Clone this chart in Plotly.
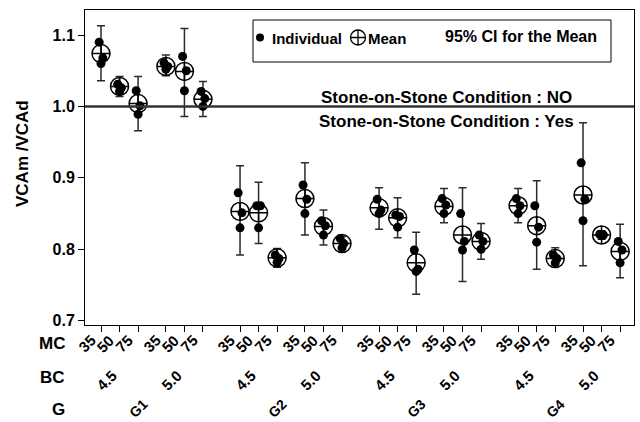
import plotly.graph_objects as go

# Factor levels (G > BC > MC nesting)
groups = ["G1", "G2", "G3", "G4"]
bc_levels = ["4.5", "5.0"]
mc_levels = ["35", "50", "75"]

# Individual observations per cell, ordered G, BC, MC
individual = [
    [1.090, 1.068, 1.060], [1.031, 1.026, 1.021], [1.022, 1.001, 0.989],
    [1.061, 1.056, 1.052], [1.070, 1.050, 1.022], [1.021, 1.011, 1.000],
    [0.879, 0.851, 0.830], [0.861, 0.861, 0.830], [0.792, 0.787, 0.782],
    [0.890, 0.870, 0.850], [0.840, 0.833, 0.820], [0.815, 0.808, 0.802],
    [0.870, 0.855, 0.850], [0.848, 0.846, 0.831], [0.799, 0.772, 0.769],
    [0.871, 0.862, 0.850], [0.850, 0.811, 0.799], [0.820, 0.811, 0.800],
    [0.871, 0.861, 0.850], [0.861, 0.831, 0.810], [0.792, 0.787, 0.781],
    [0.921, 0.870, 0.840], [0.821, 0.820, 0.819], [0.811, 0.799, 0.781],
]

# Cell means and 95% confidence limits
means = [1.074, 1.028, 1.004, 1.056, 1.049, 1.010,
         0.853, 0.851, 0.788, 0.871, 0.832, 0.808,
         0.858, 0.844, 0.781, 0.860, 0.820, 0.811,
         0.861, 0.833, 0.787, 0.876, 0.820, 0.797]
ci_low = [1.036, 1.014, 0.966, 1.043, 0.986, 0.986,
          0.792, 0.808, 0.775, 0.820, 0.806, 0.800,
          0.828, 0.816, 0.737, 0.837, 0.755, 0.786,
          0.837, 0.772, 0.778, 0.777, 0.814, 0.760]
ci_high = [1.113, 1.042, 1.042, 1.072, 1.109, 1.035,
           0.917, 0.894, 0.801, 0.921, 0.855, 0.818,
           0.886, 0.872, 0.824, 0.885, 0.886, 0.836,
           0.885, 0.896, 0.802, 0.977, 0.826, 0.835]

y_ticks = [0.7, 0.8, 0.9, 1.0, 1.1]
y_tick_text = ["0.7", "0.8", "0.9", "1.0", "1.1"]
reference_value = 1.0

FONT = "Liberation Sans, Arial, Helvetica, sans-serif"
W, H = 640, 422
ML, MR, MT, MB = 85, 6, 10, 97
PW, PH = W - ML - MR, H - MT - MB


def fx(px):
    return (px - ML) / PW


def fy(py):
    return 1 - (py - MT) / PH


def bold(size):
    return dict(family=FONT, size=size, color="black", weight="bold")


# x positions: unit step within MC, wider gaps between BC and G blocks
positions, labels = [], []
for g in range(len(groups)):
    for b in range(len(bc_levels)):
        for m in range(len(mc_levels)):
            positions.append(g * 7.5 + b * 3.5 + m)
            labels.append(mc_levels[m])

jitter = [-0.1, 0.1, 0.0]
dot_x, dot_y = [], []
for i, vals in enumerate(individual):
    for k, v in enumerate(vals):
        dot_x.append(positions[i] + jitter[k % 3])
        dot_y.append(v)

fig = go.Figure()

# Means with 95% CI bars
fig.add_trace(go.Scatter(
    x=positions, y=means, mode="markers",
    marker=dict(symbol="circle-cross-open", size=18, color="black",
                line=dict(width=1.5, color="black")),
    error_y=dict(type="data", symmetric=False,
                 array=[h - m for h, m in zip(ci_high, means)],
                 arrayminus=[m - l for m, l in zip(means, ci_low)],
                 color="#2b2b2b", thickness=1.5, width=4),
    hoverinfo="skip",
))

# Individual values
fig.add_trace(go.Scatter(
    x=dot_x, y=dot_y, mode="markers",
    marker=dict(symbol="circle", size=9, color="black"),
    hoverinfo="skip",
))

# Legend glyphs on a pixel-space overlay
fig.add_trace(go.Scatter(
    x=[260], y=[37.5], xaxis="x2", yaxis="y2", mode="markers",
    marker=dict(symbol="circle", size=8, color="black"), hoverinfo="skip"))
fig.add_trace(go.Scatter(
    x=[358], y=[37.5], xaxis="x2", yaxis="y2", mode="markers",
    marker=dict(symbol="circle-cross-open", size=15, color="black",
                line=dict(width=1.3, color="black")), hoverinfo="skip"))

shapes = [
    dict(type="line", xref="paper", x0=0, x1=1, yref="y",
         y0=reference_value, y1=reference_value,
         line=dict(color="#333333", width=2.5)),
    dict(type="rect", xref="x2", yref="y2", x0=253, x1=611, y0=20, y1=62,
         line=dict(color="black", width=1)),
]

annotations = [
    dict(xref="x2", yref="y2", x=270, y=38, text="Individual", showarrow=False,
         xanchor="left", yanchor="middle", font=bold(15)),
    dict(xref="x2", yref="y2", x=366, y=38, text="Mean", showarrow=False,
         xanchor="left", yanchor="middle", font=bold(15)),
    dict(xref="x2", yref="y2", x=443, y=36, text="95% CI for the Mean",
         showarrow=False, xanchor="left", yanchor="middle", font=bold(16)),
    dict(xref="x2", yref="y2", x=446, y=97, text="Stone-on-Stone Condition : NO",
         showarrow=False, xanchor="center", yanchor="middle", font=bold(17)),
    dict(xref="x2", yref="y2", x=446, y=121, text="Stone-on-Stone Condition : Yes",
         showarrow=False, xanchor="center", yanchor="middle", font=bold(17)),
    dict(xref="paper", yref="paper", x=fx(23), y=fy(154), text="VCAm /VCAd",
         textangle=-90, showarrow=False, xanchor="center", yanchor="middle",
         font=bold(17)),
]

# Row labels for the nested x factors
for name, py in [("MC", 343), ("BC", 377), ("G", 409)]:
    annotations.append(dict(xref="paper", yref="paper", x=fx(67), y=fy(py),
                            text=name, showarrow=False, xanchor="right",
                            yanchor="middle", font=bold(17)))

# MC level labels under each tick
for pos, lab in zip(positions, labels):
    annotations.append(dict(xref="x", yref="paper", x=pos, y=fy(329),
                            text=lab, textangle=-45, showarrow=False,
                            xanchor="right", yanchor="top", xshift=1,
                            font=bold(15)))

# BC and G level labels
for g in range(len(groups)):
    for b in range(len(bc_levels)):
        centre = g * 7.5 + b * 3.5 + 1
        annotations.append(dict(xref="x", yref="paper", x=centre, y=fy(364),
                                text=bc_levels[b], textangle=-45, showarrow=False,
                                xanchor="right", yanchor="top", xshift=3,
                                font=bold(15)))
    g_centre = g * 7.5 + 2.75
    annotations.append(dict(xref="x", yref="paper", x=g_centre, y=fy(393),
                            text=groups[g], textangle=-45, showarrow=False,
                            xanchor="right", yanchor="top", xshift=2,
                            font=bold(14)))

fig.update_layout(
    width=W, height=H,
    margin=dict(l=ML, r=MR, t=MT, b=MB, pad=0),
    paper_bgcolor="white", plot_bgcolor="white",
    showlegend=False,
    xaxis=dict(range=[-0.863, 28.75], tickvals=positions,
               ticktext=[""] * len(positions),
               ticks="outside", ticklen=6, tickwidth=1,
               tickcolor="black", showline=True, linecolor="black",
               linewidth=1, mirror=True, showgrid=False, zeroline=False),
    yaxis=dict(range=[0.694, 1.135], tickvals=y_ticks, ticktext=y_tick_text,
               ticks="outside", ticklen=6, tickwidth=1, tickcolor="black",
               showline=True, linecolor="black", linewidth=1, mirror=True,
               showgrid=False, zeroline=False, tickfont=bold(16)),
    xaxis2=dict(overlaying="x", range=[ML, W - MR], visible=False,
                fixedrange=True),
    yaxis2=dict(overlaying="y", range=[H - MB, MT], visible=False,
                fixedrange=True),
    shapes=shapes,
    annotations=annotations,
)

fig.write_html("out.html")
